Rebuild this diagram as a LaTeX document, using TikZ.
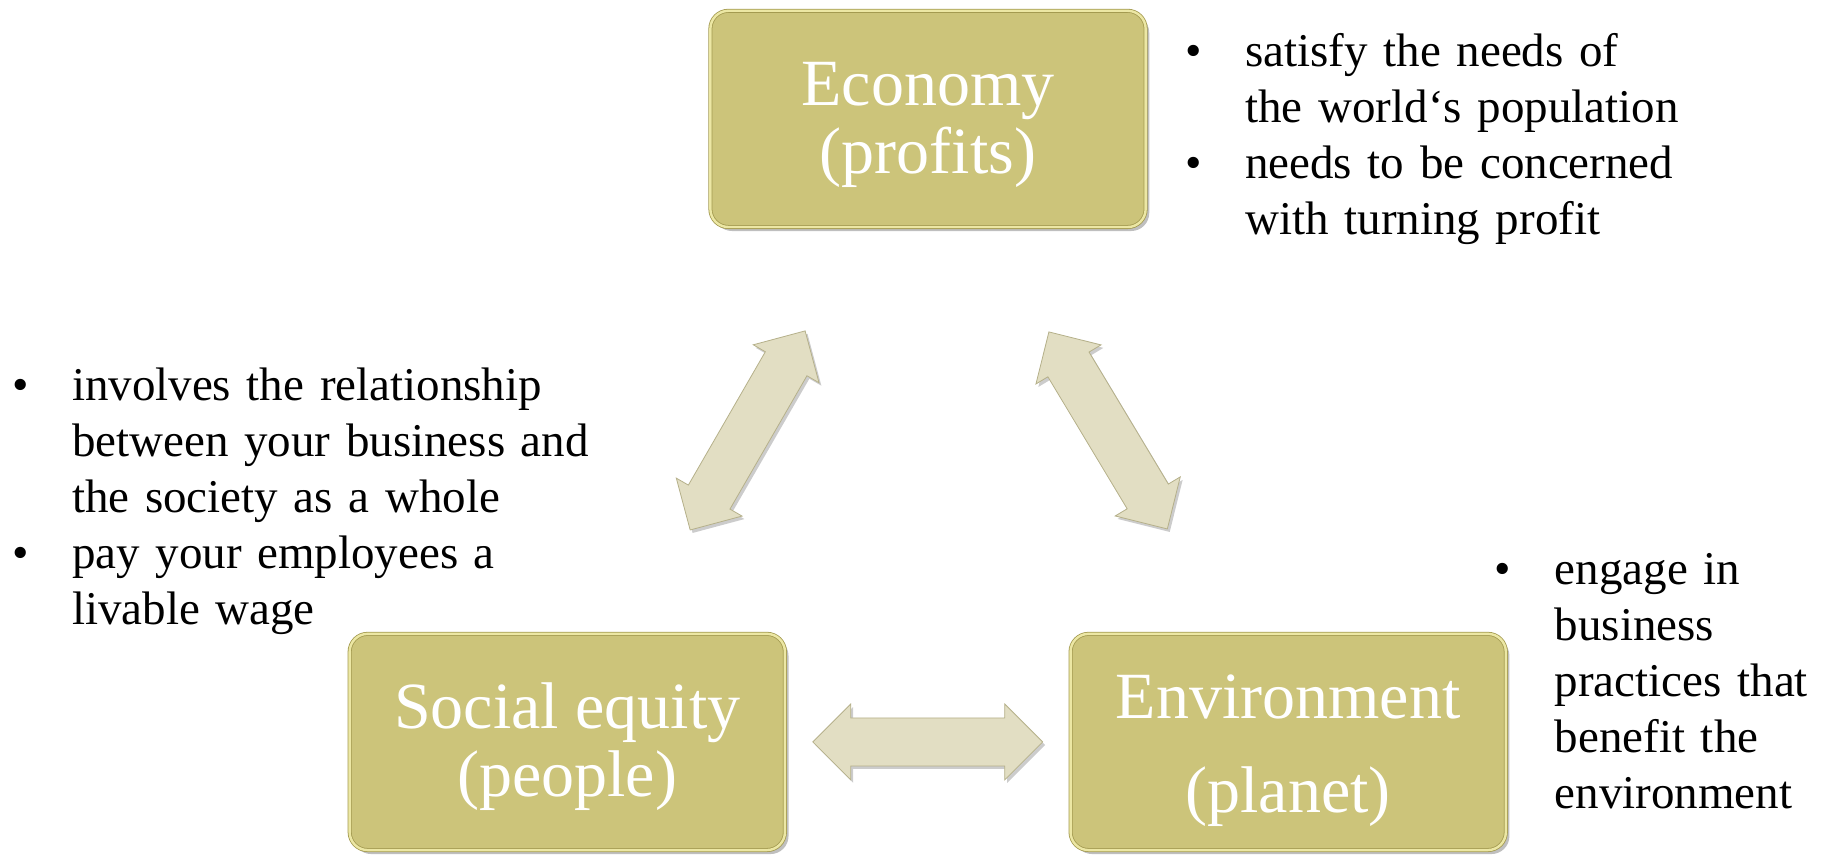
\documentclass[tikz,border=0pt]{standalone}
\usepackage{fontspec}
\setmainfont{Liberation Serif}
\usepackage{tikz}
\usetikzlibrary{positioning,calc,shapes.arrows,shadows}
\definecolor{boxfill}{HTML}{CCC47A}
\definecolor{boxedge}{HTML}{A39A50}
\definecolor{boxglow}{HTML}{ECE7A4}
\definecolor{arrfill}{HTML}{E2DEC3}
\definecolor{arredge}{HTML}{B5B08A}
\newcommand{\bul}{\makebox[27pt][l]{\hspace{-3pt}\textbullet}}
\newcommand{\nobul}{\hspace*{27pt}}
\newcommand{\tall}[1]{\rule{0pt}{#1}}

\begin{document}
\begin{tikzpicture}[
  pillar/.style={draw=boxedge, double=boxglow, double distance=1.2pt,
    fill=boxfill, rounded corners=9pt, minimum width=7.65cm,
    minimum height=3.8cm, align=center, text=white,
    font=\fontsize{33}{34}\selectfont,
    drop shadow={shadow xshift=1.8pt, shadow yshift=-2pt, opacity=0.5}},
  link/.style={double arrow, draw=arredge, fill=arrfill,
    inner xsep=0pt, inner ysep=0.415cm, minimum height=4.04cm,
    double arrow head extend=0.245cm,
    drop shadow={shadow xshift=1.2pt, shadow yshift=-1.5pt, opacity=0.4}},
  note/.style={align=left, anchor=base west, inner sep=0pt,
    font=\fontsize{23.5}{28}\selectfont},
]
  \useasboundingbox (0,0) rectangle (32.18,15.01);

  \node[pillar] (eco) at (16.31,12.92) {\tall{28pt}Economy\\(profits)};
  \node[pillar] (soc) at (9.97,1.97) {\tall{28pt}Social equity\\(people)};
  \node[pillar] (env) at (22.64,1.97)
    {\tall{30.5pt}Environment\\[13pt](planet)};

  \node[link, rotate=60] (se) at ($(soc)!0.5!(eco)$) {};
  \node[link, rotate=-59] (ee) at ($(eco)!0.5!(env)$) {};
  \node[link] (sv) at ($(soc)!0.5!(env)$) {};

  \node[note, text width=10cm] (ecotxt) at (20.93,13.84)
    {\bul satisfy the needs of\\ \nobul the world‘s population\\
     \bul needs to be concerned\\ \nobul with turning profit};
  \node[note, text width=11cm] (soctxt) at (0.31,7.97)
    {\bul involves the relationship\\ \nobul between your business and\\
     \nobul the society as a whole\\ \bul pay your employees a\\
     \nobul livable wage};
  \node[note, text width=5.5cm] (envtxt) at (26.37,4.74)
    {\bul engage in\\ \nobul business\\ \nobul practices that\\
     \nobul benefit the\\ \nobul environment};
\end{tikzpicture}
\end{document}
